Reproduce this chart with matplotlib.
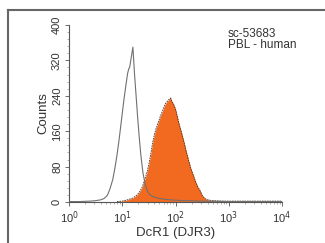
import matplotlib
matplotlib.use("Agg")
import matplotlib.pyplot as plt
from matplotlib.lines import Line2D
import numpy as np

# control (open) histogram: log10 fluorescence, counts
ctrl_log = [0.0, 0.2, 0.4, 0.5, 0.6, 0.66, 0.72, 0.77, 0.82, 0.86, 0.90, 0.94, 0.98,
            1.03, 1.07, 1.10, 1.12, 1.14, 1.16, 1.18, 1.20, 1.21, 1.23, 1.26, 1.29,
            1.32, 1.35, 1.39, 1.43, 1.47, 1.52, 1.60, 1.70, 1.80, 2.00, 2.20, 2.50,
            3.00, 3.50, 4.00]
ctrl_cnt = [1, 1, 2, 3, 5, 8, 15, 30, 50, 75, 105, 140, 180,
            230, 265, 290, 300, 305, 320, 335, 350, 330, 290, 240, 190,
            145, 105, 65, 40, 25, 16, 11, 8, 6, 4, 3, 2,
            1, 1, 1]

# DcR1 stained (filled) histogram
dcr_log = [0.9, 1.0, 1.1, 1.2, 1.28, 1.33, 1.38, 1.42, 1.46, 1.50, 1.54, 1.58, 1.62,
           1.67, 1.72, 1.77, 1.81, 1.85, 1.88, 1.91, 1.93, 1.96, 2.00, 2.04, 2.07,
           2.11, 2.15, 2.20, 2.25, 2.29, 2.33, 2.38, 2.42, 2.46, 2.50, 2.55, 2.60,
           2.70, 2.90, 3.20, 3.60, 4.00]
dcr_cnt = [1, 2, 5, 9, 16, 24, 35, 50, 65, 85, 112, 140, 160,
           178, 195, 210, 222, 228, 232, 235, 228, 222, 210, 190, 175,
           158, 140, 115, 92, 75, 62, 45, 34, 26, 15, 8, 5,
           3, 2, 2, 2, 2]

yticks = [0, 80, 160, 240, 320, 400]
xticks = [1, 10, 100, 1000, 10000]
xticklabels = [r"10$^0$", r"10$^1$", r"10$^2$", r"10$^3$", r"10$^4$"]

plt.rcParams['font.family'] = ['Liberation Sans Narrow', 'Liberation Sans', 'DejaVu Sans']
plt.rcParams['mathtext.fontset'] = 'custom'
plt.rcParams['mathtext.rm'] = 'Liberation Sans Narrow'

fig = plt.figure(figsize=(3.25, 2.43), dpi=100)
ax = fig.add_axes([69/325, 1-202/243, (282-69)/325, (202-25)/243])

cx = 10 ** np.array(ctrl_log)
dx = 10 ** np.array(dcr_log)
ax.fill_between(dx, dcr_cnt, 0, color='#F26A1F', lw=0, zorder=2)
ax.plot(dx, dcr_cnt, color='#4a3020', lw=0.6, ls=(0, (2, 1)), zorder=3)
ax.plot(cx, ctrl_cnt, color='#707070', lw=0.8, zorder=4)

ax.set_xscale('log')
ax.set_xlim(1, 10000)
ax.set_ylim(0, 400)
ax.spines['top'].set_visible(False)
ax.spines['right'].set_visible(False)
for s in ('left', 'bottom'):
    ax.spines[s].set_color('#555555')
    ax.spines[s].set_linewidth(0.8)

ax.set_yticks(yticks)
ax.set_yticks(np.arange(0, 401, 16), minor=True)
ax.set_yticklabels([str(v) for v in yticks], rotation=90, va='center', fontsize=8, color='#333333')
ax.set_xticks(xticks)
ax.set_xticklabels(xticklabels, fontsize=8, color='#333333')
ax.tick_params(axis='both', which='major', length=3, width=0.6, color='#555555', pad=2)
ax.tick_params(axis='both', which='minor', length=1.5, width=0.4, color='#777777')
ax.set_ylabel("Counts", fontsize=9.5, color='#333333', labelpad=2)
ax.set_xlabel("DcR1 (DJR3)", fontsize=9.5, color='#333333', labelpad=1)

fig.text(228/325, 1-34/243, "sc-53683", fontsize=8.5, color='#333333', va='center', ha='left')
fig.text(228/325, 1-45/243, "PBL - human", fontsize=8.5, color='#333333', va='center', ha='left')

# outer frame (top and left)
fig.add_artist(Line2D([7.5/325, 7.5/325], [0, 1-10/243], transform=fig.transFigure, color='#666666', lw=1.5))
fig.add_artist(Line2D([7.5/325, 1], [1-10/243, 1-10/243], transform=fig.transFigure, color='#666666', lw=1.5))

fig.savefig("out.png", dpi=100)
